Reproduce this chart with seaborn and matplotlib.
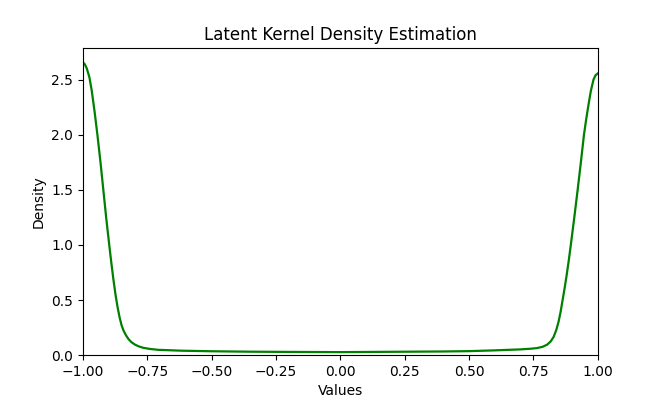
import matplotlib
matplotlib.use("Agg")
import matplotlib.pyplot as plt
import seaborn as sns
import pandas as pd

values = [-1.000, -0.993, -0.985, -0.975, -0.966, -0.955, -0.944, -0.932, -0.921, -0.910,
          -0.898, -0.890, -0.882, -0.874, -0.866, -0.858, -0.850, -0.842, -0.833, -0.823,
          -0.812, -0.798, -0.782, -0.765, -0.740, -0.708, -0.616, -0.500, -0.350, -0.200,
          0.000, 0.200, 0.400, 0.500, 0.600, 0.700, 0.740, 0.765, 0.787, 0.804,
          0.818, 0.829, 0.839, 0.848, 0.856, 0.864, 0.872, 0.880, 0.888, 0.897,
          0.910, 0.923, 0.935, 0.947, 0.955, 0.961, 0.968, 0.974, 0.984, 0.992,
          1.000]
density = [2.657, 2.64, 2.60, 2.52, 2.40, 2.21, 2.00, 1.75, 1.50, 1.25,
           1.00, 0.84, 0.69, 0.555, 0.44, 0.345, 0.27, 0.22, 0.18, 0.145,
           0.118, 0.095, 0.078, 0.066, 0.056, 0.048, 0.040, 0.035, 0.031, 0.029,
           0.027, 0.030, 0.033, 0.036, 0.043, 0.052, 0.058, 0.064, 0.076, 0.095,
           0.125, 0.165, 0.225, 0.30, 0.39, 0.50, 0.61, 0.73, 0.86, 1.02,
           1.26, 1.51, 1.75, 2.00, 2.13, 2.22, 2.32, 2.40, 2.50, 2.54,
           2.555]

df = pd.DataFrame({"Values": values, "Density": density})

fig, ax = plt.subplots(figsize=(6.64, 3.99), dpi=100)
sns.lineplot(data=df, x="Values", y="Density", color="green", linewidth=1.6,
             estimator=None, ax=ax)
ax.set_xlim(-1, 1)
ax.set_ylim(0, None)
ax.set_title("Latent Kernel Density Estimation")
ax.set_xlabel("Values")
ax.set_ylabel("Density")
fig.savefig("out.png", dpi=100)
